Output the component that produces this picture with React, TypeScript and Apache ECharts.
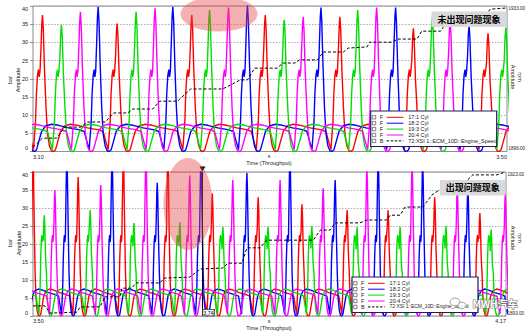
import React, { useEffect, useRef } from "react";
import * as echarts from "echarts";

// ---------------- data ----------------
const topXRange = [3.1, 3.5];
const bottomXRange = [3.5, 4.17];
const topRpmRange = [1896, 1933];
const bottomRpmRange = [1893, 1923];
const pressureTicks = [0, 5, 10, 15, 20, 25, 30, 35, 40];

const cylNames = ["17:1 Cyl", "18:2 Cyl", "19:3 Cyl", "20:4 Cyl"];
const speedName = "72:XSI 1::ECM_10D::Engine_Speed";
const cylColors = ["#ff0000", "#0000ff", "#00e000", "#ff00ff"];
const legendFlags = ["F", "F", "F", "F", "B"];

// peak times (s) and peak pressures (bar), top panel
const topCyl1T = [3.108, 3.171, 3.234, 3.296, 3.359, 3.421, 3.484];
const topCyl1A = [37.5, 35.2, 37.5, 37.5, 37, 33.9, 32.5];
const topCyl2T = [3.155, 3.218, 3.281, 3.343, 3.406, 3.468];
const topCyl2A = [39.8, 39.8, 40.3, 39.6, 39.6, 34.8];
const topCyl3T = [3.124, 3.187, 3.249, 3.312, 3.374, 3.437, 3.499];
const topCyl3A = [34.8, 38.4, 38.9, 36.2, 38.9, 37, 34];
const topCyl4T = [3.14, 3.203, 3.265, 3.328, 3.39, 3.452];
const topCyl4A = [38.4, 39.4, 39.6, 37, 39.6, 36];

// bottom panel
const botCyl1T = [3.5, 3.564, 3.628, 3.691, 3.754, 3.819, 3.881, 3.945, 4.003, 4.069, 4.133];
const botCyl1A = [44, 38.6, 44, 44, 34, 33, 31, 29.4, 29.4, 33, 28.6];
const botCyl2T = [3.548, 3.612, 3.676, 3.738, 3.803, 3.864, 3.928, 3.989, 4.052, 4.116];
const botCyl2A = [44, 44, 37, 44, 39.7, 44, 37.8, 44, 42, 35.8];
const botCyl3T = [3.516, 3.581, 3.643, 3.708, 3.769, 3.833, 3.895, 3.959, 4.02, 4.085, 4.149];
const botCyl3A = [28, 29.4, 25.8, 26, 24.7, 24.7, 25, 24.7, 24.7, 25, 24];
const botCyl4T = [3.531, 3.596, 3.66, 3.722, 3.783, 3.85, 3.911, 3.973, 4.037, 4.101, 4.169];
const botCyl4A = [35, 36.4, 44, 39, 37.8, 37.8, 35.5, 41, 42, 35.8, 34];

// one pressure cycle around its peak (ms from peak)
const shapeOffsetMs = [-11.8, -9.3, -7.6, -5.9, -5.1, -4.2, -3.4, -2.8, -2.1, -1.3, -0.6, 0, 0.7, 1.7, 3.0, 4.2, 5.9, 7.6, 9.3, 11.0, 12.7, 15.2, 18.6, 23.6, 29.5, 38.0, 46.4];
const shapeFixed = [5.5, 2.5, 0.5, 8, 16, 21, 22.5, 20.5, 22, 0, 0, 0, 0, 0, 12, 5, 1.5, 0.2, 0, 0.5, 2.5, 5.5, 7, 7.5, 7.2, 6.5, 6];
const shapeRel = [0, 0, 0, 0, 0, 0, 0, 0, 0, 0.75, 0.93, 1, 0.9, 0.6, 0, 0, 0, 0, 0, 0, 0, 0, 0, 0, 0, 0, 0];

// engine speed (s, rpm)
const topSpeedT = [3.1, 3.108, 3.12, 3.127, 3.14, 3.146, 3.161, 3.168, 3.18, 3.184, 3.201, 3.207, 3.222, 3.233, 3.26, 3.275, 3.281, 3.287, 3.306, 3.311, 3.321, 3.325, 3.34, 3.345, 3.362, 3.366, 3.382, 3.384, 3.403, 3.408, 3.424, 3.428, 3.444, 3.449, 3.477, 3.486, 3.5];
const topSpeedV = [1897.1, 1899.4, 1899.4, 1902.2, 1902.2, 1903.5, 1903.5, 1905.8, 1905.8, 1906.8, 1906.8, 1908.8, 1908.8, 1911.9, 1911.9, 1914.2, 1914.2, 1917.2, 1917.2, 1918.5, 1918.5, 1919.3, 1919.3, 1921.3, 1921.3, 1922.3, 1922.6, 1923.8, 1923.8, 1924.6, 1924.6, 1926.6, 1926.6, 1928.9, 1928.9, 1932.2, 1932.5];
const botSpeedT = [3.5, 3.517, 3.524, 3.562, 3.567, 3.595, 3.602, 3.623, 3.626, 3.64, 3.646, 3.68, 3.686, 3.722, 3.737, 3.769, 3.776, 3.796, 3.803, 3.822, 3.831, 3.897, 3.907, 3.921, 3.928, 3.963, 3.973, 4.001, 4.006, 4.02, 4.027, 4.052, 4.065, 4.076, 4.112, 4.123, 4.157, 4.169];
const botSpeedV = [1895.1, 1895.1, 1893.6, 1893.8, 1894.9, 1894.9, 1897.0, 1897.0, 1898.8, 1898.8, 1899.9, 1899.9, 1900.9, 1901.1, 1902.8, 1903.0, 1904.0, 1904.0, 1907.2, 1907.2, 1908.8, 1908.8, 1910.9, 1910.9, 1912.4, 1912.4, 1913.0, 1913.0, 1914.0, 1914.0, 1915.7, 1915.7, 1918.2, 1919.3, 1920.9, 1922.4, 1922.4, 1923.0];

const cursorTime = 3.74;
const topNote = "未出现问题现象";
const bottomNote = "出现问题现象";
const watermark = "MWH汽车";

// ---------------- helpers ----------------
const FONT = '"Liberation Sans", Arial, sans-serif';
const CJK = '"Noto Sans CJK SC", sans-serif';

function buildTrace(peakT: number[], peakA: number[]) {
  const period = peakT[1] - peakT[0];
  const peaks: [number, number][] = [[peakT[0] - period, peakA[0]]];
  peakT.forEach((t, i) => peaks.push([t, peakA[i]]));
  peaks.push([peakT[peakT.length - 1] + period, peakA[peakA.length - 1]]);
  const pts: [number, number][] = [];
  peaks.forEach(([t, a]) => {
    shapeOffsetMs.forEach((o, i) => {
      pts.push([t + o / 1000, shapeFixed[i] + shapeRel[i] * a]);
    });
  });
  return pts;
}

const zip = (a: number[], b: number[]) => a.map((v, i) => [v, b[i]]);
const near = (a: number, b: number) => Math.abs(a - b) < 1e-6;

function xAxis(gridIndex: number, range: number[]) {
  return {
    type: "value",
    gridIndex,
    min: range[0],
    max: range[1],
    axisLine: { show: false },
    axisTick: { show: false },
    splitLine: { show: false },
    axisLabel: {
      fontSize: 5.5,
      fontFamily: FONT,
      color: "#222",
      margin: 2,
      showMinLabel: true,
      showMaxLabel: true,
      alignMinLabel: "left",
      alignMaxLabel: "right",
      formatter: (v: number) => (near(v, range[0]) || near(v, range[1]) ? v.toFixed(2) : ""),
    },
  };
}

function yLeft(gridIndex: number) {
  return {
    type: "value",
    gridIndex,
    min: pressureTicks[0],
    max: pressureTicks[pressureTicks.length - 1],
    interval: pressureTicks[1] - pressureTicks[0],
    position: "left",
    axisLine: { show: false },
    axisTick: { show: true, length: 3, lineStyle: { color: "#777", width: 0.8 } },
    splitLine: { show: true, lineStyle: { color: "#999", type: [1.5, 1.5], width: 0.8 } },
    axisLabel: {
      fontSize: 5.5,
      fontFamily: FONT,
      color: "#222",
      margin: 5,
      formatter: (v: number) =>
        v === pressureTicks[0] ? `{lo|${v}}` : v === pressureTicks[pressureTicks.length - 1] ? `{hi|${v}}` : String(v),
      rich: {
        lo: { padding: [0, 0, 7, 0], fontSize: 5.5, fontFamily: FONT, color: "#222" },
        hi: { padding: [5, 0, 0, 0], fontSize: 5.5, fontFamily: FONT, color: "#222" },
      },
    },
  };
}

function yRight(gridIndex: number, range: number[]) {
  return {
    type: "value",
    gridIndex,
    min: range[0],
    max: range[1],
    position: "right",
    axisLine: { show: false },
    axisTick: { show: false },
    splitLine: { show: false },
    axisLabel: {
      fontSize: 4.6,
      fontFamily: FONT,
      color: "#222",
      margin: 1.5,
      showMinLabel: true,
      showMaxLabel: true,
      formatter: (v: number) =>
        near(v, range[0]) ? `{lo|${v.toFixed(2)}}` : near(v, range[1]) ? `{hi|${v.toFixed(2)}}` : "",
      rich: {
        lo: { padding: [0, 0, 6, 0], fontSize: 4.6, fontFamily: FONT, color: "#222" },
        hi: { padding: [5, 0, 0, 0], fontSize: 4.6, fontFamily: FONT, color: "#222" },
      },
    },
  };
}

function legendGraphics(x0: number, y0: number, lastSize: number) {
  const els: any[] = [
    {
      type: "rect",
      shape: { x: x0, y: y0, width: 126, height: 35.5 },
      style: { fill: "#fff", stroke: "#1c1c5a", lineWidth: 1.2 },
      z: 100,
    },
  ];
  const names = [...cylNames, speedName];
  const colors = [...cylColors, "#000"];
  names.forEach((n, i) => {
    const cy = y0 + 6.3 + i * 5.9;
    els.push({
      type: "rect",
      shape: { x: x0 + 1.6, y: cy - 1.7, width: 3.4, height: 3.4 },
      style: { fill: "#fff", stroke: "#333", lineWidth: 0.6 },
      z: 101,
    });
    els.push({
      type: "text",
      x: x0 + 9,
      y: cy,
      style: { text: legendFlags[i], font: `5.5px ${FONT}`, fill: "#222", align: "left", verticalAlign: "middle" },
      z: 101,
    });
    els.push({
      type: "line",
      shape: { x1: x0 + 16, y1: cy, x2: x0 + 32.6, y2: cy },
      style: { stroke: colors[i], lineWidth: 1, lineDash: i === 4 ? [2.5, 1.5] : null },
      z: 101,
    });
    els.push({
      type: "text",
      x: x0 + 37.6,
      y: cy,
      style: {
        text: n,
        font: `${i === 4 ? lastSize : 5.5}px ${FONT}`,
        fill: "#222",
        align: "left",
        verticalAlign: "middle",
      },
      z: 101,
    });
  });
  return els;
}

function textEl(text: string, x: number, y: number, rotation = 0, size = 5.5) {
  return {
    type: "text",
    x,
    y,
    rotation,
    style: { text, font: `${size}px ${FONT}`, fill: "#222", align: "center", verticalAlign: "middle" },
    z: 100,
  };
}

function noteEl(text: string, x: number, y: number, w: number, h: number) {
  return [
    { type: "rect", shape: { x, y, width: w, height: h }, style: { fill: "#d9d9d9" }, z: 110 },
    {
      type: "text",
      x: x + w / 2,
      y: y + h / 2,
      style: { text, font: `bold 9px ${CJK}`, fill: "#000", align: "center", verticalAlign: "middle" },
      z: 111,
    },
  ];
}

export default function App() {
  const ref = useRef<HTMLDivElement>(null);
  useEffect(() => {
    if (!ref.current) return;
    const chart = echarts.init(ref.current, null, { renderer: "svg" });

    const topSets = [
      [topCyl1T, topCyl1A],
      [topCyl2T, topCyl2A],
      [topCyl3T, topCyl3A],
      [topCyl4T, topCyl4A],
    ];
    const botSets = [
      [botCyl1T, botCyl1A],
      [botCyl2T, botCyl2A],
      [botCyl3T, botCyl3A],
      [botCyl4T, botCyl4A],
    ];

    const series: any[] = [];
    topSets.forEach(([t, a], i) => {
      series.push({
        type: "line",
        name: cylNames[i],
        xAxisIndex: 0,
        yAxisIndex: 0,
        data: buildTrace(t, a),
        showSymbol: false,
        clip: true,
        lineStyle: { color: cylColors[i], width: 1.4 },
        z: 2,
      });
    });
    series.push({
      type: "line",
      name: speedName,
      xAxisIndex: 0,
      yAxisIndex: 1,
      data: zip(topSpeedT, topSpeedV),
      showSymbol: false,
      clip: true,
      lineStyle: { color: "#000", width: 1, type: [3, 2] },
      z: 3,
    });
    botSets.forEach(([t, a], i) => {
      series.push({
        type: "line",
        name: cylNames[i] + " ",
        xAxisIndex: 1,
        yAxisIndex: 2,
        data: buildTrace(t, a),
        showSymbol: false,
        clip: true,
        lineStyle: { color: cylColors[i], width: 1.4 },
        z: 2,
      });
    });
    series.push({
      type: "line",
      name: speedName + " ",
      xAxisIndex: 1,
      yAxisIndex: 3,
      data: zip(botSpeedT, botSpeedV),
      showSymbol: false,
      clip: true,
      lineStyle: { color: "#000", width: 1, type: [3, 2] },
      z: 3,
      markLine: {
        silent: true,
        symbol: ["none", "none"],
        label: { show: false },
        lineStyle: { color: "#000", width: 1, type: "solid" },
        data: [{ xAxis: cursorTime }],
      },
    });
    series.push({
      type: "line",
      name: "cursor",
      xAxisIndex: 1,
      yAxisIndex: 2,
      data: [],
      z: 5,
      markPoint: {
        silent: true,
        data: [
          {
            coord: [cursorTime, 40],
            symbol: "triangle",
            symbolRotate: 180,
            symbolSize: [6, 5],
            symbolOffset: [0, -3],
            itemStyle: { color: "#000" },
            label: { show: false },
          },
          {
            coord: [cursorTime, 0],
            symbol: "rect",
            symbolSize: [11.5, 6.5],
            symbolOffset: [6, -3.4],
            itemStyle: { color: "#fff", borderColor: "#333", borderWidth: 0.8 },
            label: {
              show: true,
              position: "inside",
              formatter: cursorTime.toFixed(2),
              fontSize: 5,
              fontFamily: FONT,
              color: "#000",
            },
          },
        ],
      },
    });

    const graphic: any[] = [
      // axis names
      textEl("bar", 10, 80, Math.PI / 2),
      textEl("Amplitude", 18, 80, Math.PI / 2),
      textEl("Amplitude", 513, 77, -Math.PI / 2),
      textEl("rpm", 520, 77, -Math.PI / 2),
      textEl("s", 269, 155.5),
      textEl("Time (Throughput)", 269, 162.8),
      textEl("bar", 10, 243, Math.PI / 2),
      textEl("Amplitude", 18.5, 243, Math.PI / 2),
      textEl("Amplitude", 513, 238, -Math.PI / 2),
      textEl("rpm", 520, 238, -Math.PI / 2),
      textEl("s", 269, 321),
      textEl("Time (Throughput)", 269, 328),
      ...legendGraphics(370.7, 111, 5.5),
      ...legendGraphics(352, 277, 4.9),
      ...noteEl(topNote, 431.5, 11.5, 75, 15.5),
      ...noteEl(bottomNote, 440, 180, 65.5, 15.5),
      {
        type: "ellipse",
        shape: { cx: 219, cy: 14, rx: 38.5, ry: 17.5 },
        style: { fill: "rgba(232,70,70,0.42)" },
        z: 120,
      },
      {
        type: "ellipse",
        shape: { cx: 188, cy: 204, rx: 24.5, ry: 46 },
        style: { fill: "rgba(232,70,70,0.42)" },
        z: 120,
      },
      // watermark
      {
        type: "ellipse",
        shape: { cx: 455, cy: 302, rx: 5, ry: 4 },
        style: { fill: "rgba(255,255,255,0.85)", stroke: "#888", lineWidth: 0.8 },
        z: 130,
      },
      {
        type: "ellipse",
        shape: { cx: 462, cy: 305.5, rx: 4, ry: 3.3 },
        style: { fill: "rgba(255,255,255,0.85)", stroke: "#888", lineWidth: 0.8 },
        z: 131,
      },
      {
        type: "text",
        x: 495,
        y: 303,
        style: {
          text: watermark,
          font: `bold 10px ${CJK}`,
          fill: "#fff",
          stroke: "#777",
          lineWidth: 1.2,
          align: "center",
          verticalAlign: "middle",
        },
        z: 132,
      },
    ];

    chart.setOption({
      animation: false,
      backgroundColor: "#fff",
      grid: [
        { left: 33, top: 6, width: 474, height: 145.5, show: true, borderColor: "#8a8a8a", borderWidth: 1, backgroundColor: "#fff" },
        { left: 33, top: 172, width: 473, height: 144, show: true, borderColor: "#8a8a8a", borderWidth: 1, backgroundColor: "#fff" },
      ],
      xAxis: [xAxis(0, topXRange), xAxis(1, bottomXRange)],
      yAxis: [yLeft(0), yRight(0, topRpmRange), yLeft(1), yRight(1, bottomRpmRange)],
      series,
      graphic,
    });
    return () => chart.dispose();
  }, []);
  return (
    <div
      ref={ref}
      style={{ position: "fixed", left: 0, top: 0, width: 529, height: 331, background: "#fff" }}
    />
  );
}
